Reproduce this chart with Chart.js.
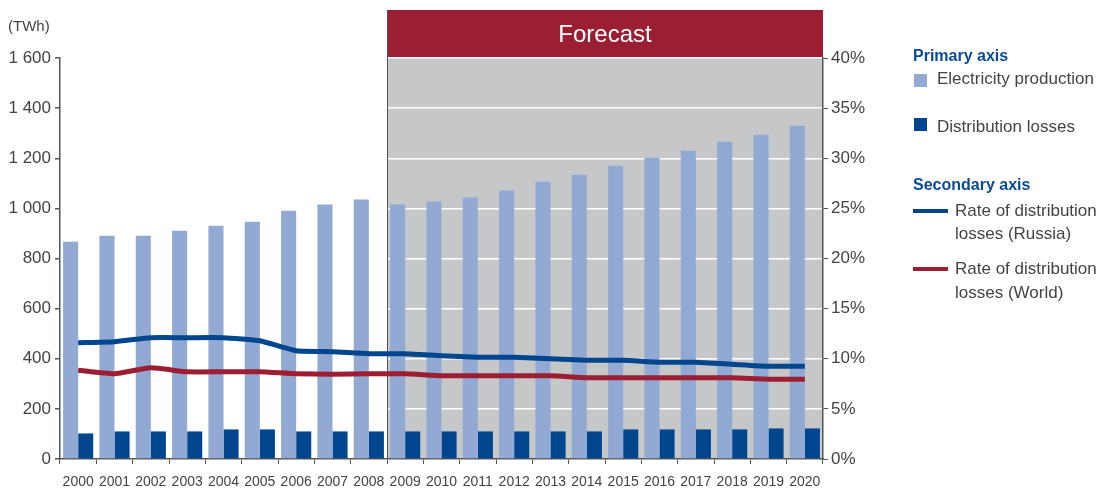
<!DOCTYPE html>
<html>
<head>
<meta charset="utf-8">
<script src="https://cdn.jsdelivr.net/npm/chart.js@4/dist/chart.umd.min.js"></script>
<style>
  html, body { margin: 0; padding: 0; background: #fff; }
  #wrap { position: relative; width: 1100px; height: 489px; }
</style>
</head>
<body>
<div id="wrap"><canvas id="myChart" width="1100" height="489"></canvas></div>
<script>
const years = ['2000', '2001', '2002', '2003', '2004', '2005', '2006', '2007', '2008', '2009', '2010',
  '2011', '2012', '2013', '2014', '2015', '2016', '2017', '2018', '2019', '2020'];
const production = [867, 891, 891, 911, 931, 947, 991, 1015, 1035, 1015, 1027,
  1043, 1071, 1106, 1134, 1170, 1202, 1230, 1266, 1294, 1330];
const losses = [102, 110, 110, 110, 118, 118, 110, 110, 110, 110, 110,
  110, 110, 110, 110, 118, 118, 118, 118, 122, 122];
const rateRussia = [11.6, 11.7, 12.1, 12.1, 12.1, 11.8, 10.8, 10.7, 10.5, 10.5, 10.3,
  10.15, 10.15, 10.0, 9.85, 9.85, 9.65, 9.65, 9.45, 9.25, 9.25];
const rateWorld = [8.85, 8.5, 9.1, 8.7, 8.7, 8.7, 8.5, 8.45, 8.5, 8.5, 8.3,
  8.3, 8.3, 8.3, 8.1, 8.1, 8.1, 8.1, 8.1, 7.95, 7.95];
const forecastStart = 9; // index of 2009

const lightBlue = '#92a9d3';
const darkBlue = '#00468f';
const red = '#9b1e32';
const grey = '#c6c7c9';
const axisColor = '#555';
const textColor = '#444';
const font = '"Liberation Sans", Arial, sans-serif';

// forecast shading + header
const forecastPlugin = {
  id: 'forecast',
  beforeDraw(chart) {
    const { ctx, chartArea, scales } = chart;
    const x0 = (scales.x.getPixelForValue(forecastStart - 1) + scales.x.getPixelForValue(forecastStart)) / 2;
    ctx.save();
    ctx.fillStyle = grey;
    ctx.fillRect(x0, chartArea.top, chartArea.right - x0, chartArea.bottom - chartArea.top);
    ctx.fillStyle = red;
    ctx.fillRect(x0, 10, chartArea.right - x0, chartArea.top - 10);
    ctx.fillStyle = '#fff';
    ctx.font = '24px ' + font;
    ctx.textAlign = 'center';
    ctx.textBaseline = 'middle';
    ctx.fillText('Forecast', (x0 + chartArea.right) / 2, 35);
    ctx.restore();
  },
  beforeDatasetsDraw(chart) {
    const { ctx, chartArea, scales } = chart;
    const x0 = Math.round((scales.x.getPixelForValue(forecastStart - 1) + scales.x.getPixelForValue(forecastStart)) / 2) + 0.5;
    ctx.save();
    ctx.strokeStyle = axisColor;
    ctx.lineWidth = 1;
    ctx.beginPath();
    ctx.moveTo(x0, 10);
    ctx.lineTo(x0, chartArea.bottom);
    ctx.stroke();
    ctx.restore();
  },
  afterDraw(chart) {
    const { ctx } = chart;
    const ds = chart.data.datasets;
    ctx.save();
    ctx.textBaseline = 'middle';
    ctx.textAlign = 'left';
    ctx.fillStyle = textColor;
    ctx.font = '15px ' + font;
    ctx.fillText('(TWh)', 8, 27);

    ctx.font = 'bold 16px ' + font;
    ctx.fillStyle = '#0a4a96';
    ctx.fillText('Primary axis', 913, 57);
    ctx.fillText('Secondary axis', 913, 186);

    ctx.font = '17px ' + font;
    ctx.fillStyle = ds[0].backgroundColor;
    ctx.fillRect(914, 74, 13, 13);
    ctx.fillStyle = ds[1].backgroundColor;
    ctx.fillRect(914, 118, 13, 13);
    ctx.fillStyle = textColor;
    ctx.fillText(ds[0].label, 937, 79);
    ctx.fillText(ds[1].label, 937, 127);

    ctx.fillStyle = ds[2].borderColor;
    ctx.fillRect(913, 209, 35, 4);
    ctx.fillStyle = ds[3].borderColor;
    ctx.fillRect(913, 267, 35, 4);
    ctx.fillStyle = textColor;
    ctx.fillText('Rate of distribution', 955, 211);
    ctx.fillText('losses (Russia)', 955, 234);
    ctx.fillText('Rate of distribution', 955, 269);
    ctx.fillText('losses (World)', 955, 293);
    ctx.restore();
  }
};

function spaced(v) {
  if (v >= 1000) return Math.floor(v / 1000) + ' ' + String(v % 1000).padStart(3, '0');
  return String(v);
}

let ctx = document.getElementById('myChart').getContext('2d');
let myChart = new Chart(ctx, {
  type: 'bar',
  data: {
    labels: years,
    datasets: [{
      label: 'Electricity production',
      data: production,
      backgroundColor: lightBlue,
      yAxisID: 'y',
      order: 1
    }, {
      label: 'Distribution losses',
      data: losses,
      backgroundColor: darkBlue,
      yAxisID: 'y',
      order: 1
    }, {
      type: 'line',
      label: 'Rate of distribution losses (Russia)',
      data: rateRussia,
      borderColor: darkBlue,
      borderWidth: 5,
      pointRadius: 0,
      tension: 0.15,
      yAxisID: 'y1',
      order: 0
    }, {
      type: 'line',
      label: 'Rate of distribution losses (World)',
      data: rateWorld,
      borderColor: red,
      borderWidth: 5,
      pointRadius: 0,
      tension: 0.15,
      yAxisID: 'y1',
      order: 0
    }]
  },
  options: {
    responsive: false,
    animation: false,
    devicePixelRatio: 1,
    categoryPercentage: 0.83,
    barPercentage: 1.0,
    layout: { padding: { top: 58, left: 0, right: 0, bottom: 0 } },
    plugins: {
      legend: { display: false },
      tooltip: { enabled: false }
    },
    scales: {
      x: {
        afterFit: s => { s.height = 30; },
        grid: { drawOnChartArea: false, tickLength: 5, tickColor: axisColor, offset: true },
        border: { color: axisColor, width: 1.5 },
        ticks: { color: textColor, font: { family: font, size: 14 }, maxRotation: 0, autoSkip: false, padding: 10 }
      },
      y: {
        position: 'left',
        min: 0,
        max: 1600,
        afterFit: s => { s.width = 60; },
        grid: { color: '#fff', lineWidth: 1.5, tickLength: 5, tickColor: axisColor },
        border: { color: axisColor, width: 1.5 },
        ticks: { stepSize: 200, color: textColor, font: { family: font, size: 17 }, padding: 4, callback: v => spaced(v) }
      },
      y1: {
        position: 'right',
        min: 0,
        max: 40,
        afterFit: s => { s.width = 277; },
        grid: { drawOnChartArea: false, tickLength: 5, tickColor: axisColor },
        border: { color: axisColor, width: 1.5 },
        ticks: { stepSize: 5, color: textColor, font: { family: font, size: 17 }, padding: 3, callback: v => v + '%' }
      }
    }
  },
  plugins: [forecastPlugin]
});
</script>
</body>
</html>
